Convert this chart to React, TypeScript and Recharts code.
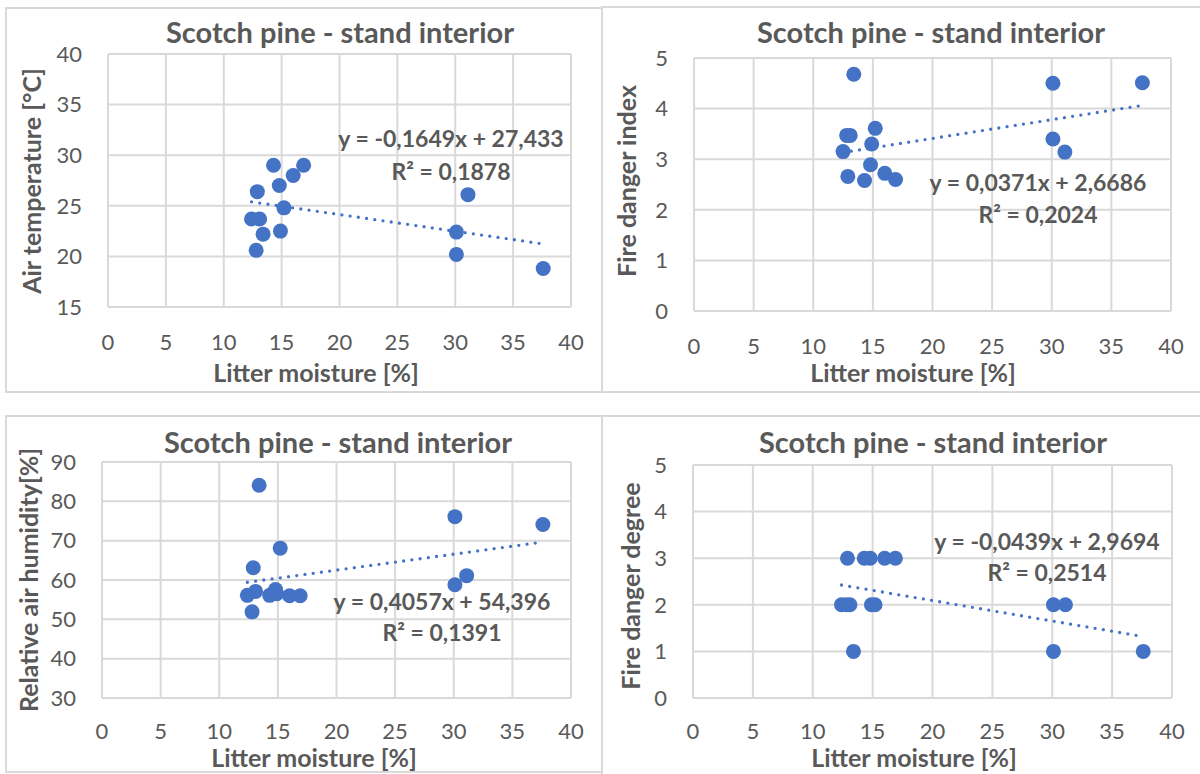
import React from "react";
import { ScatterChart, Scatter, XAxis, YAxis, CartesianGrid, ReferenceLine } from "recharts";

const moistureTicks = [0, 5, 10, 15, 20, 25, 30, 35, 40];

// Air temperature vs litter moisture
const tempMoisture = [14.3, 16.9, 16.0, 14.8, 12.9, 15.2, 12.4, 13.1, 13.4, 14.9, 12.8, 31.1, 30.1, 30.1, 37.6];
const airTemperature = [29.0, 29.0, 28.0, 27.0, 26.4, 24.8, 23.7, 23.7, 22.2, 22.5, 20.6, 26.1, 22.4, 20.2, 18.8];
const tempTicks = [15, 20, 25, 30, 35, 40];

// Fire danger index vs litter moisture
const indexMoisture = [13.4, 30.1, 37.6, 15.2, 12.8, 13.1, 14.9, 12.5, 30.1, 31.1, 14.8, 16.0, 12.9, 14.3, 16.9];
const fireIndex = [4.68, 4.5, 4.51, 3.61, 3.47, 3.47, 3.3, 3.15, 3.4, 3.14, 2.89, 2.72, 2.66, 2.58, 2.6];
const indexTicks = [0, 1, 2, 3, 4, 5];

// Relative air humidity vs litter moisture
const humidityMoisture = [13.4, 30.1, 37.6, 15.2, 12.9, 31.1, 30.1, 12.4, 13.1, 12.8, 14.3, 14.8, 14.9, 16.0, 16.9];
const airHumidity = [84.1, 76.1, 74.1, 68.1, 63.1, 61.1, 58.8, 56.1, 57.1, 51.9, 56.1, 57.6, 56.5, 56.0, 56.0];
const humidityTicks = [30, 40, 50, 60, 70, 80, 90];

// Fire danger degree vs litter moisture
const degreeMoisture = [12.9, 14.3, 14.8, 16.0, 16.9, 12.4, 12.8, 13.1, 14.9, 15.2, 30.1, 31.1, 13.4, 30.1, 37.6];
const fireDegree = [3, 3, 3, 3, 3, 2, 2, 2, 2, 2, 2, 2, 1, 1, 1];
const degreeTicks = [0, 1, 2, 3, 4, 5];

const BLUE = "#4472C4";
const GREY = "#595959";
const GRID = "#d9d9d9";
const FONT = "Lato, 'Open Sans', sans-serif";

type Box = { x: number; y: number; w: number; h: number };
type Plot = { l: number; t: number; r: number; b: number };
type Pt = { x: number; y: number };

interface PanelProps {
  box: Box;
  plot: Plot;
  xs: number[];
  ys: number[];
  yTicks: number[];
  slope: number;
  intercept: number;
  title: string;
  titleAt: Pt;
  yLabel: string;
  yLabelAt: Pt;
  xLabelAt: Pt;
  xTickGap: number;
  eq: string;
  r2: string;
  eqAt: Pt;
  r2At: Pt;
}

function TextAt({ at, children, size, bold, rotate }: { at: Pt; children: React.ReactNode; size: number; bold?: boolean; rotate?: boolean }) {
  return (
    <div
      style={{
        position: "absolute",
        left: at.x,
        top: at.y,
        transform: `translate(-50%, -50%)${rotate ? " rotate(-90deg)" : ""}`,
        whiteSpace: "nowrap",
        fontFamily: FONT,
        fontSize: size,
        fontWeight: bold ? 700 : 400,
        color: GREY,
        lineHeight: 0.85,
      }}
    >
      {children}
    </div>
  );
}

function Panel(p: PanelProps) {
  const data = p.xs.map((x, i) => ({ x, y: p.ys[i] }));
  const xMin = Math.min(...p.xs);
  const xMax = Math.max(...p.xs);
  const xAxisHeight = 60;
  const margin = {
    top: p.plot.t - p.box.y,
    right: p.box.x + p.box.w - p.plot.r,
    bottom: p.box.y + p.box.h - p.plot.b - xAxisHeight,
    left: 0,
  };
  const tick = { fill: GREY, fontSize: 22, fontFamily: FONT };

  return (
    <>
      <div
        style={{
          position: "absolute",
          left: p.box.x - 1,
          top: p.box.y - 1,
          width: p.box.w + 2,
          height: p.box.h + 2,
          border: `2px solid ${GRID}`,
          boxSizing: "border-box",
        }}
      />
      <div style={{ position: "absolute", left: p.box.x, top: p.box.y }}>
        <ScatterChart width={p.box.w} height={p.box.h} margin={margin}>
          <CartesianGrid stroke={GRID} strokeWidth={2} />
          <XAxis
            type="number"
            dataKey="x"
            domain={[0, 40]}
            ticks={moistureTicks}
            interval={0}
            height={xAxisHeight}
            axisLine={false}
            tickLine={false}
            tickSize={0}
            tickMargin={p.xTickGap}
            tick={tick}
          />
          <YAxis
            type="number"
            dataKey="y"
            domain={[p.yTicks[0], p.yTicks[p.yTicks.length - 1]]}
            ticks={p.yTicks}
            interval={0}
            width={p.plot.l - p.box.x}
            axisLine={false}
            tickLine={false}
            tickSize={0}
            tickMargin={26}
            tick={tick}
          />
          <ReferenceLine
            segment={[
              { x: xMin, y: p.slope * xMin + p.intercept },
              { x: xMax, y: p.slope * xMax + p.intercept },
            ]}
            stroke={BLUE}
            strokeWidth={3.3}
            strokeDasharray="0 8.3"
            strokeLinecap="round"
          />
          <Scatter
            data={data}
            fill={BLUE}
            isAnimationActive={false}
            shape={(s: any) => <circle cx={s.cx} cy={s.cy} r={7.5} fill={BLUE} />}
          />
        </ScatterChart>
      </div>
      <TextAt at={p.titleAt} size={29} bold>{p.title}</TextAt>
      <TextAt at={p.xLabelAt} size={25} bold>Litter moisture [%]</TextAt>
      <TextAt at={p.yLabelAt} size={25} bold rotate>{p.yLabel}</TextAt>
      <TextAt at={p.eqAt} size={23} bold>{p.eq}</TextAt>
      <TextAt at={p.r2At} size={23} bold>{p.r2}</TextAt>
    </>
  );
}

export default function App() {
  return (
    <div style={{ position: "absolute", left: 0, top: 0, width: 1200, height: 774, overflow: "hidden", background: "#fff" }}>
      <Panel
        box={{ x: 6, y: 8, w: 596, h: 384 }}
        plot={{ l: 108, t: 54, r: 571, b: 307 }}
        xs={tempMoisture}
        ys={airTemperature}
        yTicks={tempTicks}
        slope={-0.1649}
        intercept={27.433}
        title="Scotch pine - stand interior"
        titleAt={{ x: 340, y: 32 }}
        yLabel="Air temperature [°C]"
        yLabelAt={{ x: 32, y: 181 }}
        xLabelAt={{ x: 316, y: 373 }}
        xTickGap={27}
        eq="y = -0,1649x + 27,433"
        r2="R² = 0,1878"
        eqAt={{ x: 451, y: 139 }}
        r2At={{ x: 451, y: 172 }}
      />
      <Panel
        box={{ x: 602, y: 7, w: 620, h: 385 }}
        plot={{ l: 694, t: 58, r: 1171, b: 311 }}
        xs={indexMoisture}
        ys={fireIndex}
        yTicks={indexTicks}
        slope={0.0371}
        intercept={2.6686}
        title="Scotch pine - stand interior"
        titleAt={{ x: 931, y: 32 }}
        yLabel="Fire danger index"
        yLabelAt={{ x: 627, y: 181 }}
        xLabelAt={{ x: 913, y: 373 }}
        xTickGap={27}
        eq="y = 0,0371x + 2,6686"
        r2="R² = 0,2024"
        eqAt={{ x: 1038, y: 183 }}
        r2At={{ x: 1038, y: 215 }}
      />
      <Panel
        box={{ x: 6, y: 416, w: 596, h: 356 }}
        plot={{ l: 102, t: 462, r: 571, b: 698 }}
        xs={humidityMoisture}
        ys={airHumidity}
        yTicks={humidityTicks}
        slope={0.4057}
        intercept={54.396}
        title="Scotch pine - stand interior"
        titleAt={{ x: 338, y: 442 }}
        yLabel="Relative air humidity[%]"
        yLabelAt={{ x: 29, y: 580 }}
        xLabelAt={{ x: 314, y: 758 }}
        xTickGap={25}
        eq="y = 0,4057x + 54,396"
        r2="R² = 0,1391"
        eqAt={{ x: 442, y: 602 }}
        r2At={{ x: 442, y: 633 }}
      />
      <Panel
        box={{ x: 602, y: 416, w: 620, h: 380 }}
        plot={{ l: 693, t: 465, r: 1172, b: 698 }}
        xs={degreeMoisture}
        ys={fireDegree}
        yTicks={degreeTicks}
        slope={-0.0439}
        intercept={2.9694}
        title="Scotch pine - stand interior"
        titleAt={{ x: 933, y: 442 }}
        yLabel="Fire danger degree"
        yLabelAt={{ x: 631, y: 586 }}
        xLabelAt={{ x: 914, y: 758 }}
        xTickGap={25}
        eq="y = -0,0439x + 2,9694"
        r2="R² = 0,2514"
        eqAt={{ x: 1047, y: 542 }}
        r2At={{ x: 1047, y: 573 }}
      />
    </div>
  );
}
